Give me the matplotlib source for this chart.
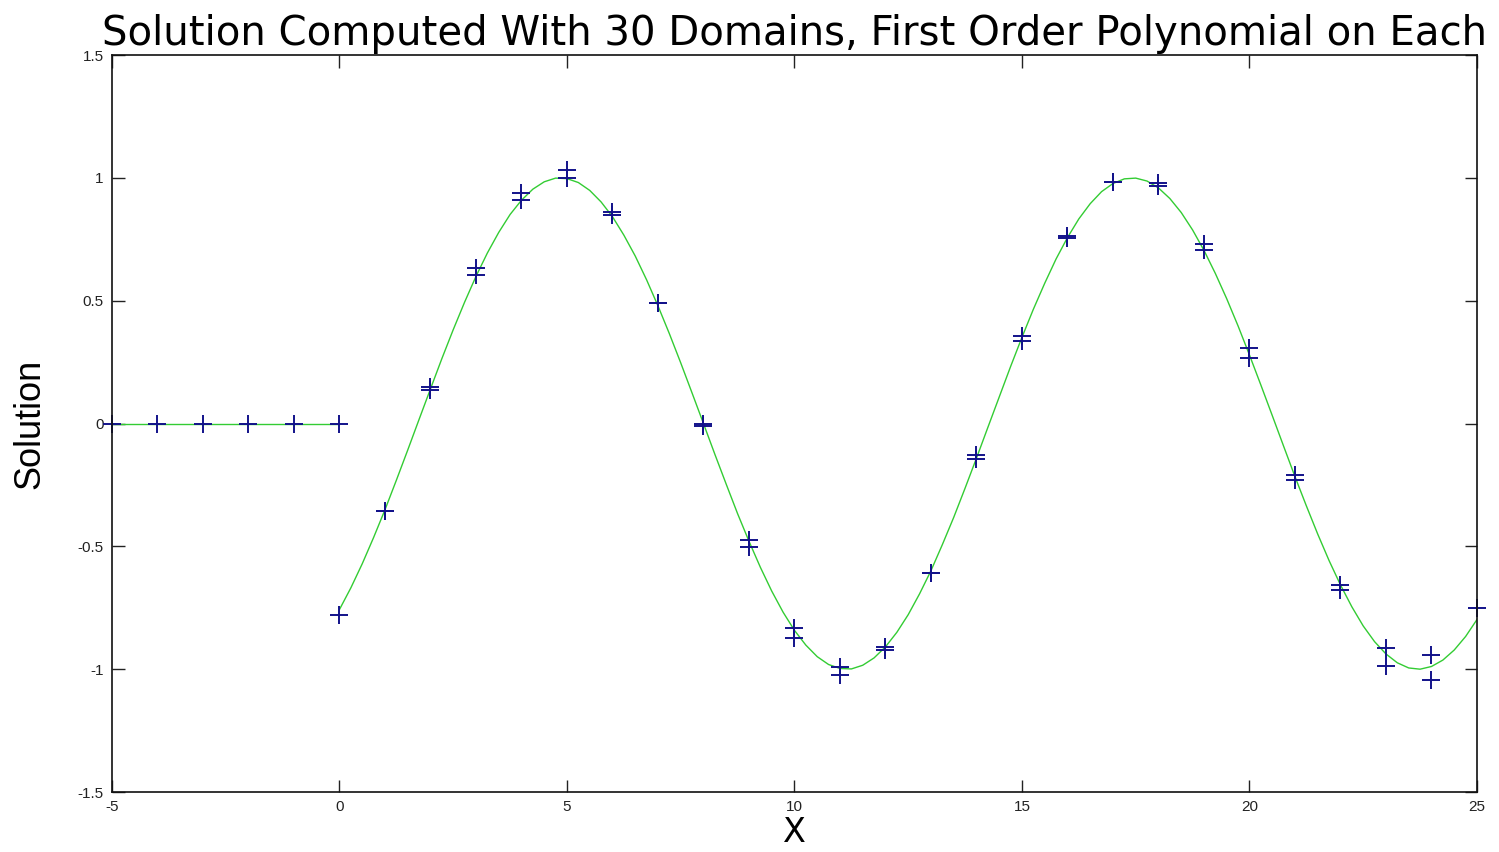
import numpy as np
import matplotlib
matplotlib.use("Agg")
import matplotlib.pyplot as plt

plt.rcParams['font.family'] = ['Liberation Sans', 'DejaVu Sans']

# ---- exact solution (green line), left part is zero, right part sampled every 0.25 ----
x_left = [-5, 0]
u_left = [0.0, 0.0]

x_right = np.arange(0, 25.001, 0.25)
u_right = [-0.757, -0.669, -0.571, -0.464, -0.351, -0.231, -0.108, 0.017, 0.141, 0.264,
           0.382, 0.494, 0.599, 0.694, 0.778, 0.851, 0.909, 0.954, 0.984, 0.999,
           0.997, 0.981, 0.949, 0.902, 0.842, 0.767, 0.682, 0.585, 0.479, 0.366,
           0.247, 0.124, 0.000, -0.125, -0.247, -0.367, -0.479, -0.585, -0.682, -0.768,
           -0.842, -0.902, -0.949, -0.981, -0.997, -0.999, -0.984, -0.954, -0.909, -0.850,
           -0.778, -0.693, -0.599, -0.493, -0.382, -0.263, -0.141, -0.016, 0.108, 0.232,
           0.351, 0.465, 0.571, 0.670, 0.757, 0.833, 0.895, 0.944, 0.977, 0.996,
           0.999, 0.987, 0.959, 0.916, 0.859, 0.788, 0.705, 0.611, 0.508, 0.397,
           0.279, 0.157, 0.033, -0.092, -0.216, -0.335, -0.450, -0.558, -0.657, -0.746,
           -0.824, -0.888, -0.938, -0.974, -0.995, -1.000, -0.989, -0.963, -0.922, -0.867,
           -0.798]

# ---- domain end values of the computed solution (blue pluses) ----
xd = [-5, -4, -3, -2, -1, 0,
      0, 1, 1, 2, 2, 3, 3, 4, 4, 5, 5, 6, 6, 7, 7, 8, 8, 9, 9, 10, 10,
      11, 11, 12, 12, 13, 13, 14, 14, 15, 15, 16, 16, 17, 17, 18, 18,
      19, 19, 20, 20, 21, 21, 22, 22, 23, 23, 24, 24, 25]
ud = [0, 0, 0, 0, 0, 0,
      -0.78, -0.356, -0.356, 0.15, 0.135, 0.632, 0.605, 0.937, 0.91, 1.032, 0.998,
      0.862, 0.849, 0.489, 0.489, 0.0, -0.01, -0.474, -0.501, -0.834, -0.874,
      -0.992, -1.024, -0.908, -0.922, -0.607, -0.607, -0.13, -0.145, 0.355, 0.336,
      0.763, 0.756, 0.984, 0.984, 0.978, 0.967, 0.731, 0.706, 0.306, 0.265,
      -0.21, -0.23, -0.657, -0.678, -0.915, -0.987, -0.942, -1.044, -0.752]

xticks = [-5, 0, 5, 10, 15, 20, 25]
yticks = [-1.5, -1, -0.5, 0, 0.5, 1, 1.5]
ytick_labels = ['-1.5', '-1', '-0.5', '0', '0.5', '1', '1.5']

fig = plt.figure(figsize=(14.99, 8.52), dpi=100)
ax = fig.add_axes([0.0747, 0.0704, 0.9106, 0.865])

line_col = '#33cc33'
mark_col = '#12128a'
ax.plot(x_left, u_left, color=line_col, lw=1.0)
ax.plot(x_right, u_right, color=line_col, lw=1.0)
ax.plot(xd, ud, '+', color=mark_col, ms=13, mew=1.4, clip_on=False)

ax.set_xlim(-5, 25)
ax.set_ylim(-1.5, 1.5)
ax.set_xticks(xticks)
ax.set_xticklabels([str(t) for t in xticks])
ax.set_yticks(yticks)
ax.set_yticklabels(ytick_labels)
ax.tick_params(direction='in', length=9, width=1, top=True, right=True,
               labelsize=11, colors='#222222')
ax.tick_params(axis='x', pad=6)
ax.tick_params(axis='y', pad=6)
for s in ax.spines.values():
    s.set_linewidth(1.2)
    s.set_color('#111111')

ax.set_title('Solution Computed With 30 Domains, First Order Polynomial on Each',
             fontsize=29, pad=7, family='DejaVu Sans')
ax.set_xlabel('X', fontsize=24, labelpad=1, family='DejaVu Sans')
ax.set_ylabel('Solution', fontsize=26, labelpad=22)

fig.savefig('out.png', dpi=100)
